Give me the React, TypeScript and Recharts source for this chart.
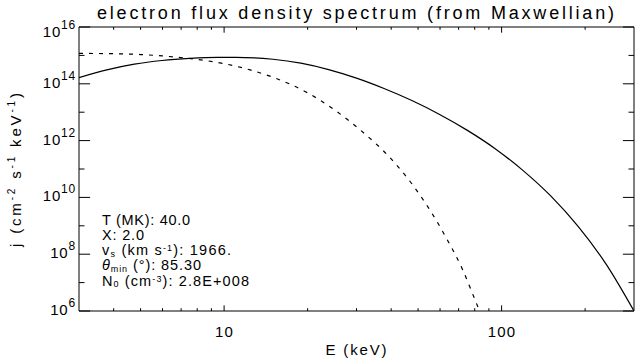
import React from 'react';
import { LineChart, Line, XAxis, YAxis, Customized } from 'recharts';

// ---- data (E in keV, log10 of j) ----
const solidE = [3, 3.78, 4.75, 5.98, 7.53, 9.48, 11.9, 15.0, 18.9, 23.8, 30.0, 37.7, 47.5, 59.8, 75.3, 94.8, 119, 150, 189, 238, 300];
const solidLogJ = [14.22, 14.49, 14.69, 14.82, 14.895, 14.93, 14.925, 14.865, 14.725, 14.5, 14.2, 13.835, 13.41, 12.92, 12.36, 11.715, 10.96, 10.06, 8.97, 7.65, 6.0];

const dashE = [3, 4, 5, 6, 8, 10, 12.5, 15.3, 20, 25, 31, 40.3, 47.9, 55.7, 63.7, 72.1, 81.7, 83.3];
const dashLogJ = [15.07, 15.06, 15.03, 14.98, 14.86, 14.71, 14.48, 14.2, 13.68, 13.08, 12.37, 11.32, 10.43, 9.49, 8.51, 7.49, 6.2, 6.0];

const xTicks = [4, 5, 6, 7, 8, 9, 10, 20, 30, 40, 50, 60, 70, 80, 90, 100, 200];
const xMajor = [10, 100];
const yExponents = [6, 7, 8, 9, 10, 11, 12, 13, 14, 15, 16];
const yLabelExponents = [6, 8, 10, 12, 14, 16];

const xDomain = [3, 300];
const yDomain = [1e6, 1e16];

const titleText = 'electron flux density spectrum (from Maxwellian)';
const xTitle = 'E (keV)';

const solidData = solidE.map((E, i) => ({ E, j: Math.pow(10, solidLogJ[i]) }));
const dashData = dashE.map((E, i) => ({ E, j: Math.pow(10, dashLogJ[i]) }));
const yTicks = yExponents.map((e) => Math.pow(10, e));

const FONT = "'Liberation Sans', Arial, Helvetica, sans-serif";
const X_MAJOR_LEN = 5.7;
const X_MINOR_LEN = 2.8;
const Y_MAJOR_LEN = 11.1;
const Y_MINOR_LEN = 5.5;

const expOf = (v: number) => Math.round(Math.log10(v));

const BottomTick = (props: any) => {
  const { x, y, payload } = props;
  const v = payload.value;
  const major = xMajor.includes(v);
  return (
    <g>
      <line x1={x} x2={x} y1={y} y2={y - (major ? X_MAJOR_LEN : X_MINOR_LEN)} stroke="#000" strokeWidth={1} />
      {major && (
        <text x={x + 0.5} y={y + 26} textAnchor="middle" fontSize={15} fontFamily={FONT} fill="#000" letterSpacing={1.2}>
          {String(v)}
        </text>
      )}
    </g>
  );
};

const TopTick = (props: any) => {
  const { x, y, payload } = props;
  const major = xMajor.includes(payload.value);
  return <line x1={x} x2={x} y1={y} y2={y + (major ? X_MAJOR_LEN : X_MINOR_LEN)} stroke="#000" strokeWidth={1} />;
};

const LeftTick = (props: any) => {
  const { x, y, payload } = props;
  const e = expOf(payload.value);
  const major = yLabelExponents.includes(e);
  const dy = e === 16 ? 10 : 4;
  return (
    <g>
      <line x1={x} x2={x + (major ? Y_MAJOR_LEN : Y_MINOR_LEN)} y1={y} y2={y} stroke="#000" strokeWidth={1} />
      {major && (
        <text x={x - 3} y={y + dy} textAnchor="end" fontSize={15} fontFamily={FONT} fill="#000" letterSpacing={0.8}>
          10
          <tspan dy={-8} fontSize={12}>{String(e)}</tspan>
        </text>
      )}
    </g>
  );
};

const RightTick = (props: any) => {
  const { x, y, payload } = props;
  const major = yLabelExponents.includes(expOf(payload.value));
  return <line x1={x} x2={x - (major ? Y_MAJOR_LEN : Y_MINOR_LEN)} y1={y} y2={y} stroke="#000" strokeWidth={1} />;
};

const Texts = () => {
  const t = { fontFamily: FONT, fill: '#000', fontSize: 15 } as any;
  const a = { fontFamily: FONT, fill: '#000', fontSize: 14.5 } as any;
  return (
    <g>
      <text x={355.5} y={18.5} textAnchor="middle" fontSize={18} fontFamily={FONT} fill="#000" textLength={517} lengthAdjust="spacing">
        {titleText}
      </text>
      <text x={356} y={355} textAnchor="middle" {...t} textLength={61} lengthAdjust="spacing">
        {xTitle}
      </text>
      <text x={21} y={170} textAnchor="middle" transform="rotate(-90 21 170)" {...t} textLength={154} lengthAdjust="spacing">
        j (cm<tspan dy={-6} fontSize={10}>-2</tspan>
        <tspan dy={6}> s</tspan>
        <tspan dy={-6} fontSize={10}>-1</tspan>
        <tspan dy={6}> keV</tspan>
        <tspan dy={-6} fontSize={10}>-1</tspan>
        <tspan dy={6}>)</tspan>
      </text>
      <text x={102} y={224.5} {...a} textLength={88} lengthAdjust="spacing">T (MK): 40.0</text>
      <text x={102} y={239.8} {...a} textLength={42} lengthAdjust="spacing">X: 2.0</text>
      <text x={102} y={255} {...a} textLength={129} lengthAdjust="spacing">
        v<tspan dy={1.5} fontSize={9}>s</tspan>
        <tspan dy={-1.5}> (km s</tspan>
        <tspan dy={-4} fontSize={9}>-1</tspan>
        <tspan dy={4}>): 1966.</tspan>
      </text>
      <text x={102} y={270.3} {...a} textLength={99} lengthAdjust="spacing">
        <tspan fontStyle="italic">θ</tspan>
        <tspan dy={1.5} fontSize={9}>min</tspan>
        <tspan dy={-1.5}> (°): 85.30</tspan>
      </text>
      <text x={102} y={285.6} {...a} textLength={147} lengthAdjust="spacing">
        N<tspan dy={1.5} fontSize={9}>0</tspan>
        <tspan dy={-1.5}> (cm</tspan>
        <tspan dy={-4} fontSize={9}>-3</tspan>
        <tspan dy={4}>): 2.8E+008</tspan>
      </text>
    </g>
  );
};

export default function App() {
  return (
    <div style={{ position: 'absolute', left: 0, top: 0, width: 635, height: 362, background: '#fff' }}>
      <LineChart width={635} height={362} margin={{ top: 26, right: 0, bottom: 0, left: 0 }}>
        <XAxis
          xAxisId="b"
          dataKey="E"
          type="number"
          scale="log"
          domain={xDomain}
          allowDataOverflow
          ticks={xTicks}
          interval={0}
          tickSize={0}
          tickMargin={0}
          tickLine={false}
          height={51}
          axisLine={{ stroke: '#000', strokeWidth: 1 }}
          tick={<BottomTick />}
        />
        <XAxis
          xAxisId="t"
          orientation="top"
          dataKey="E"
          type="number"
          scale="log"
          domain={xDomain}
          allowDataOverflow
          ticks={xTicks}
          interval={0}
          tickSize={0}
          tickMargin={0}
          tickLine={false}
          height={1}
          axisLine={{ stroke: '#000', strokeWidth: 1 }}
          tick={<TopTick />}
        />
        <YAxis
          yAxisId="l"
          dataKey="j"
          type="number"
          scale="log"
          domain={yDomain}
          allowDataOverflow
          ticks={yTicks}
          interval={0}
          tickSize={0}
          tickMargin={0}
          tickLine={false}
          width={79}
          axisLine={{ stroke: '#000', strokeWidth: 1 }}
          tick={<LeftTick />}
        />
        <YAxis
          yAxisId="r"
          orientation="right"
          dataKey="j"
          type="number"
          scale="log"
          domain={yDomain}
          allowDataOverflow
          ticks={yTicks}
          interval={0}
          tickSize={0}
          tickMargin={0}
          tickLine={false}
          width={1}
          axisLine={{ stroke: '#000', strokeWidth: 1 }}
          tick={<RightTick />}
        />
        <Line
          xAxisId="b"
          yAxisId="l"
          data={solidData}
          dataKey="j"
          type="monotone"
          stroke="#000"
          strokeWidth={1.2}
          dot={false}
          activeDot={false}
          isAnimationActive={false}
        />
        <Line
          xAxisId="b"
          yAxisId="l"
          data={dashData}
          dataKey="j"
          type="monotone"
          stroke="#000"
          strokeWidth={1.2}
          strokeDasharray="4 6"
          dot={false}
          activeDot={false}
          isAnimationActive={false}
        />
        <Customized component={<Texts />} />
      </LineChart>
    </div>
  );
}
